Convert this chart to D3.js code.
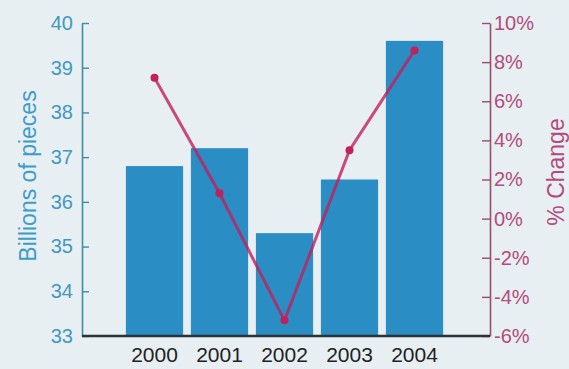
<!DOCTYPE html>
<html>
<head>
<meta charset="utf-8">
<script src="https://cdn.jsdelivr.net/npm/d3@7"></script>
<style>
  html, body { margin: 0; padding: 0; background: #e7eff2; }
  svg { display: block; font-family: "Liberation Sans", Arial, sans-serif; }
</style>
</head>
<body>
<div id="chart"></div>
<script>
// values
var years = ['2000', '2001', '2002', '2003', '2004'];
var pieces = [36.8, 37.2, 35.3, 36.5, 39.6];      // billions of pieces (bars)
var pctChange = [7.2, 1.3, -5.2, 3.5, 8.6];        // % change (line)
var leftTicks = [33, 34, 35, 36, 37, 38, 39, 40];
var rightTicks = [-6, -4, -2, 0, 2, 4, 6, 8, 10];

var W = 569, H = 369;
var LEFT = 82, RIGHT = 490, TOP = 23, BOTTOM = 336;

var BAR_COLOR = '#2a8dc3';
var LEFT_COLOR = '#4298bf';
var RIGHT_COLOR = '#b34b7c';
var LINE_COLOR = '#c21f5d';

var svg = d3.select('#chart').append('svg')
  .attr('width', W)
  .attr('height', H);

svg.append('rect')
  .attr('width', W).attr('height', H)
  .attr('fill', '#e7eff2');

var x = d3.scaleBand()
  .domain(years)
  .range([122, 447])
  .paddingInner(0.12)
  .paddingOuter(0.06);

var yLeft = d3.scaleLinear().domain([33, 40]).range([BOTTOM, TOP]);
var yRight = d3.scaleLinear().domain([-6, 10]).range([BOTTOM, TOP]);

// bars
svg.append('g').selectAll('rect')
  .data(years)
  .join('rect')
  .attr('x', function(d) { return x(d); })
  .attr('y', function(d, i) { return yLeft(pieces[i]); })
  .attr('width', x.bandwidth())
  .attr('height', function(d, i) { return BOTTOM - yLeft(pieces[i]); })
  .attr('fill', BAR_COLOR);

// left axis, ticks point inward
var gl = svg.append('g')
  .attr('transform', 'translate(' + LEFT + ',0)')
  .call(d3.axisLeft(yLeft)
    .tickValues(leftTicks)
    .tickSizeInner(-7)
    .tickSizeOuter(0)
    .tickPadding(9)
    .tickFormat(function(d) { return String(d); }));
gl.select('.domain').attr('stroke', '#3f8ea8').attr('stroke-width', 1.6);
gl.selectAll('.tick line').attr('stroke', '#3f8ea8').attr('stroke-width', 1.4);
gl.selectAll('.tick text')
  .attr('fill', LEFT_COLOR)
  .attr('font-size', '20px')
  .attr('font-family', '"Liberation Sans", Arial, sans-serif');

// right axis, ticks point inward
var gr = svg.append('g')
  .attr('transform', 'translate(' + RIGHT + ',0)')
  .call(d3.axisRight(yRight)
    .tickValues(rightTicks)
    .tickSizeInner(-8)
    .tickSizeOuter(0)
    .tickPadding(4)
    .tickFormat(function(d) { return String(d) + '%'; }));
gr.select('.domain').attr('stroke', '#9a4d6e').attr('stroke-width', 1.6);
gr.selectAll('.tick line').attr('stroke', '#9a4d6e').attr('stroke-width', 1.4);
gr.selectAll('.tick text')
  .attr('fill', RIGHT_COLOR)
  .attr('font-size', '20px')
  .attr('font-family', '"Liberation Sans", Arial, sans-serif');

// bottom axis
var gb = svg.append('g')
  .attr('transform', 'translate(0,' + BOTTOM + ')')
  .call(d3.axisBottom(x).tickSize(0).tickPadding(11));
gb.select('.domain').remove();
gb.selectAll('.tick text')
  .attr('fill', '#222')
  .attr('font-size', '21px')
  .attr('font-family', '"Liberation Sans", Arial, sans-serif');
svg.append('line')
  .attr('x1', LEFT).attr('x2', RIGHT)
  .attr('y1', BOTTOM).attr('y2', BOTTOM)
  .attr('stroke', '#2b3336')
  .attr('stroke-width', 2.5);

// % change line
var line = d3.line()
  .x(function(d, i) { return x(years[i]) + x.bandwidth() / 2; })
  .y(function(d) { return yRight(d); });

svg.append('path')
  .datum(pctChange)
  .attr('d', line)
  .attr('fill', 'none')
  .attr('stroke', LINE_COLOR)
  .attr('stroke-opacity', 0.8)
  .attr('stroke-width', 3);

svg.append('g').selectAll('circle')
  .data(pctChange)
  .join('circle')
  .attr('cx', function(d, i) { return x(years[i]) + x.bandwidth() / 2; })
  .attr('cy', function(d) { return yRight(d); })
  .attr('r', 4)
  .attr('fill', LINE_COLOR);

// axis titles
svg.append('text')
  .attr('transform', 'translate(36,176) rotate(-90)')
  .attr('text-anchor', 'middle')
  .attr('fill', '#3d9cc9')
  .attr('font-size', '23px')
  .text('Billions of pieces');

svg.append('text')
  .attr('transform', 'translate(564,172) rotate(-90)')
  .attr('text-anchor', 'middle')
  .attr('fill', RIGHT_COLOR)
  .attr('font-size', '23px')
  .text('% Change');
</script>
</body>
</html>
